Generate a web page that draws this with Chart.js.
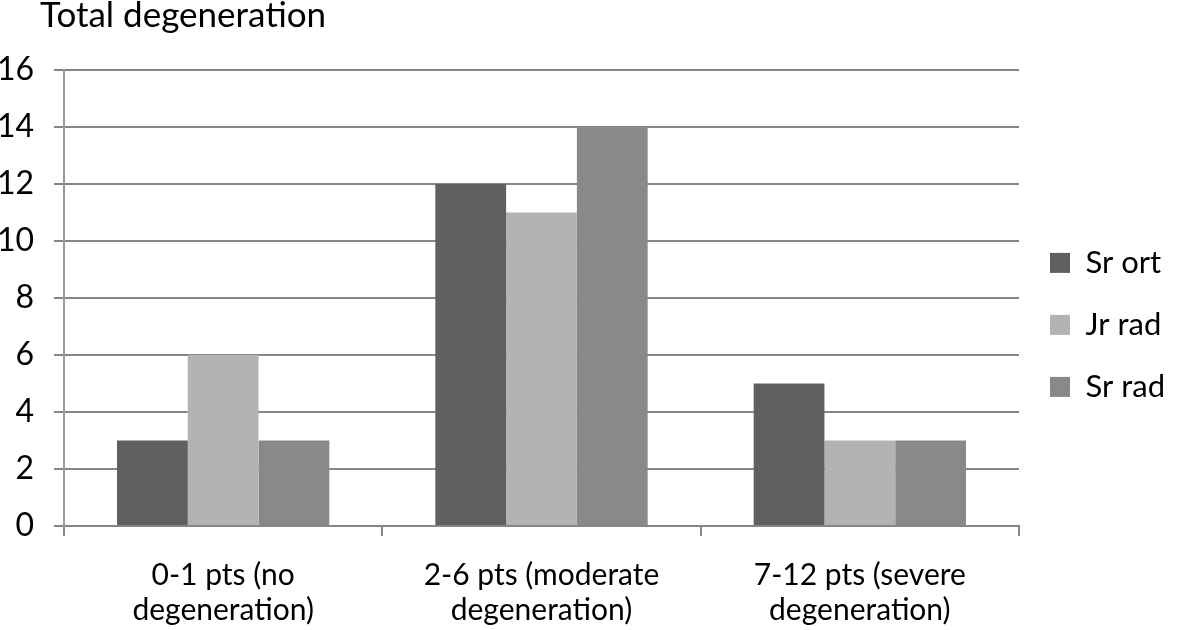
<!DOCTYPE html>
<html>
<head>
<meta charset="utf-8">
<script src="https://cdn.jsdelivr.net/npm/chart.js@4/dist/chart.umd.min.js"></script>
<style>
  html, body { margin: 0; padding: 0; background: #fff; }
</style>
</head>
<body>
<canvas id="chart" width="1181" height="630"></canvas>
<script>
    // data
    const categories = [
    ['0-1 pts (no', 'degeneration)'],
    ['2-6 pts (moderate', 'degeneration)'],
    ['7-12 pts (severe', 'degeneration)']
    ];
    const srOrt = [3, 12, 5];
    const jrRad = [6, 11, 3];
    const srRad = [3, 14, 3];
    const chartTitle = 'Total degeneration';

    const FONT = 'Lato, "Open Sans", sans-serif';
    const GRID = '#868686';

    // heading drawn at the top left like the original
    const titlePlugin = {
    id: 'topTitle',
    afterDraw(chart) {
    const c = chart.ctx;
    c.save();
    c.font = '35px ' + FONT;
    c.fillStyle = '#000';
    c.textBaseline = 'alphabetic';
    c.fillText(chartTitle, 40, 27);
    c.restore();
}
};

    const ctx = document.getElementById('chart').getContext('2d');
    const chart = new Chart(ctx, {
    type: 'bar',
    data: {
    labels: categories,
    datasets: [
    { label: 'Sr ort', data: srOrt, backgroundColor: '#606060' },
    { label: 'Jr rad', data: jrRad, backgroundColor: '#b3b3b3' },
    { label: 'Sr rad', data: srRad, backgroundColor: '#898989' }
    ]
},
    options: {
    responsive: false,
    animation: false,
    devicePixelRatio: 1,
    categoryPercentage: 0.667,
    barPercentage: 1,
    layout: { padding: { top: 70, left: 0, right: 6, bottom: 0 } },
    plugins: {
    title: { display: false },
    tooltip: { enabled: false },
    legend: {
    position: 'right',
    align: 'start',
    // empty legend title only used to push the items down
    title: { display: true, text: '', font: { size: 12, lineHeight: 1.2 }, padding: { top: 132, bottom: 0 } },
    labels: {
    font: { family: FONT, size: 31 },
    color: '#000',
    boxWidth: 20,
    boxHeight: 20,
    padding: 31
}
}
},
    scales: {
    x: {
    grid: {
    offset: true,
    drawOnChartArea: false,
    drawTicks: true,
    tickLength: 10,
    color: GRID,
    lineWidth: 2
},
    border: { color: GRID, width: 2 },
    ticks: {
    font: { family: FONT, size: 30, lineHeight: 1.17 },
    color: '#000',
    maxRotation: 0,
    autoSkip: false,
    padding: 22
},
    afterFit(scale) { scale.height = 104; }
},
    y: {
    min: 0,
    max: 16,
    ticks: {
    stepSize: 2,
    font: { family: FONT, size: 32 },
    color: '#000',
    padding: 20
},
    grid: { color: GRID, lineWidth: 2, tickLength: 10 },
    border: { color: '#9a9a9a', width: 2 },
    afterFit(scale) { scale.width = 64; }
}
}
},
    plugins: [titlePlugin]
});
</script>
</body>
</html>
